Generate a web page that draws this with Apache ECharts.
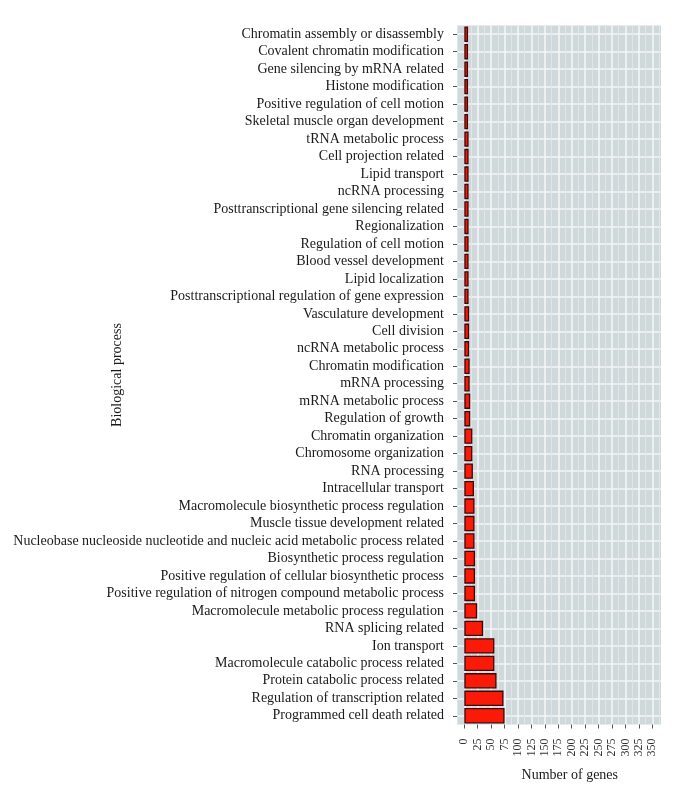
<!DOCTYPE html>
<html>
<head>
<meta charset="utf-8">
<script src="https://cdn.jsdelivr.net/npm/echarts@6/dist/echarts.min.js"></script>
<style>
  html, body { margin: 0; padding: 0; background: #ffffff; }
  #chart { width: 683px; height: 796px; }
</style>
</head>
<body>
<div id="chart"></div>
<script>
// Categories listed top to bottom as in the reference
const categories = [
  'Chromatin assembly or disassembly',
  'Covalent chromatin modification',
  'Gene silencing by mRNA related',
  'Histone modification',
  'Positive regulation of cell motion',
  'Skeletal muscle organ development',
  'tRNA metabolic process',
  'Cell projection related',
  'Lipid transport',
  'ncRNA processing',
  'Posttranscriptional gene silencing related',
  'Regionalization',
  'Regulation of cell motion',
  'Blood vessel development',
  'Lipid localization',
  'Posttranscriptional regulation of gene expression',
  'Vasculature development',
  'Cell division',
  'ncRNA metabolic process',
  'Chromatin modification',
  'mRNA processing',
  'mRNA metabolic process',
  'Regulation of growth',
  'Chromatin organization',
  'Chromosome organization',
  'RNA processing',
  'Intracellular transport',
  'Macromolecule biosynthetic process regulation',
  'Muscle tissue development related',
  'Nucleobase nucleoside nucleotide and nucleic acid metabolic process related',
  'Biosynthetic process regulation',
  'Positive regulation of cellular biosynthetic process',
  'Positive regulation of nitrogen compound metabolic process',
  'Macromolecule metabolic process regulation',
  'RNA splicing related',
  'Ion transport',
  'Macromolecule catabolic process related',
  'Protein catabolic process related',
  'Regulation of transcription related',
  'Programmed cell death related'
];

const geneCounts = [
  7, 7, 7, 7, 7, 7,
  8, 8, 8, 8, 8, 8,
  8, 8, 8, 8,
  9, 9, 9,
  10, 10,
  11, 11,
  15, 15, 16,
  18, 19, 19, 19,
  20, 20, 20,
  24, 35, 56, 56, 60, 73, 75
];

// x axis tick labels
const xTickMin = 0;
const xTickMax = 350;
const xTickStep = 25;

const FONT = 'Liberation Serif';
const PANEL_BG = '#cfd8da';
const MAJOR = '#f3f6f6';
const MINOR = '#e1e7e8';

const xTickValues = [];
for (let v = xTickMin; v <= xTickMax; v += xTickStep) xTickValues.push(v);

const chart = echarts.init(document.getElementById('chart'), null, { renderer: 'canvas' });

const option = {
  backgroundColor: '#ffffff',
  animation: false,
  grid: [
    { // 0: panel background + category labels
      left: 457, right: 22, top: 25.5, bottom: 71.5,
      show: true, backgroundColor: PANEL_BG, borderWidth: 0, z: -5
    },
    { // 1: horizontal grid lines through category centres
      left: 457, right: 22, top: 34.24, bottom: 80.24, show: false
    },
    { // 2: bars + number scale
      left: 450.87, right: 17.27, top: 25.5, bottom: 71.5, show: false
    }
  ],
  xAxis: [
    { type: 'value', gridIndex: 0, min: 0, max: 1, show: false },
    { type: 'value', gridIndex: 1, min: 0, max: 1, show: false },
    {
      type: 'value', gridIndex: 2,
      min: xTickMin - xTickStep, max: xTickMax + xTickStep, interval: xTickStep,
      axisLine: { show: false },
      axisTick: { show: true, length: 4, lineStyle: { color: '#555', width: 1 }, customValues: xTickValues },
      axisLabel: {
        rotate: 90, margin: 14, fontFamily: FONT, fontSize: 12, color: '#333',
        formatter: function (v) { return (v < xTickMin || v > xTickMax) ? '' : String(v); }
      },
      splitLine: { show: true, lineStyle: { color: MAJOR, width: 1.6 } },
      minorTick: { show: false, splitNumber: 2 },
      minorSplitLine: { show: true, lineStyle: { color: MINOR, width: 1 } },
      name: 'Number of genes', nameLocation: 'middle', nameGap: 44, nameMoveOverlap: false,
      nameTextStyle: { fontFamily: FONT, fontSize: 14, color: '#1a1a1a', padding: [0, 0, 0, 23] }
    }
  ],
  yAxis: [
    {
      type: 'category', gridIndex: 0, inverse: true,
      data: categories,
      axisLine: { show: false },
      axisTick: { show: true, alignWithLabel: true, length: 4, lineStyle: { color: '#555', width: 1 } },
      axisLabel: { fontFamily: FONT, fontSize: 14, color: '#1a1a1a', margin: 13, interval: 0 },
      splitLine: { show: false },
      name: 'Biological process', nameLocation: 'middle', nameGap: 333, nameRotate: 90,
      nameMoveOverlap: false,
      nameTextStyle: { fontFamily: FONT, fontSize: 14, color: '#1a1a1a' }
    },
    {
      type: 'category', gridIndex: 1, inverse: true, boundaryGap: false,
      data: categories,
      axisLine: { show: false }, axisTick: { show: false }, axisLabel: { show: false },
      splitLine: { show: true, interval: 0, lineStyle: { color: MAJOR, width: 1.6 } }
    },
    {
      type: 'category', gridIndex: 2, inverse: true,
      data: categories, show: false
    }
  ],
  series: [
    {
      type: 'bar',
      xAxisIndex: 2, yAxisIndex: 2,
      data: geneCounts,
      barWidth: '88%',
      z: 5,
      itemStyle: { color: '#fb1a08', borderColor: '#3a0806', borderWidth: 1.3 }
    }
  ]
};

chart.setOption(option);
</script>
</body>
</html>
